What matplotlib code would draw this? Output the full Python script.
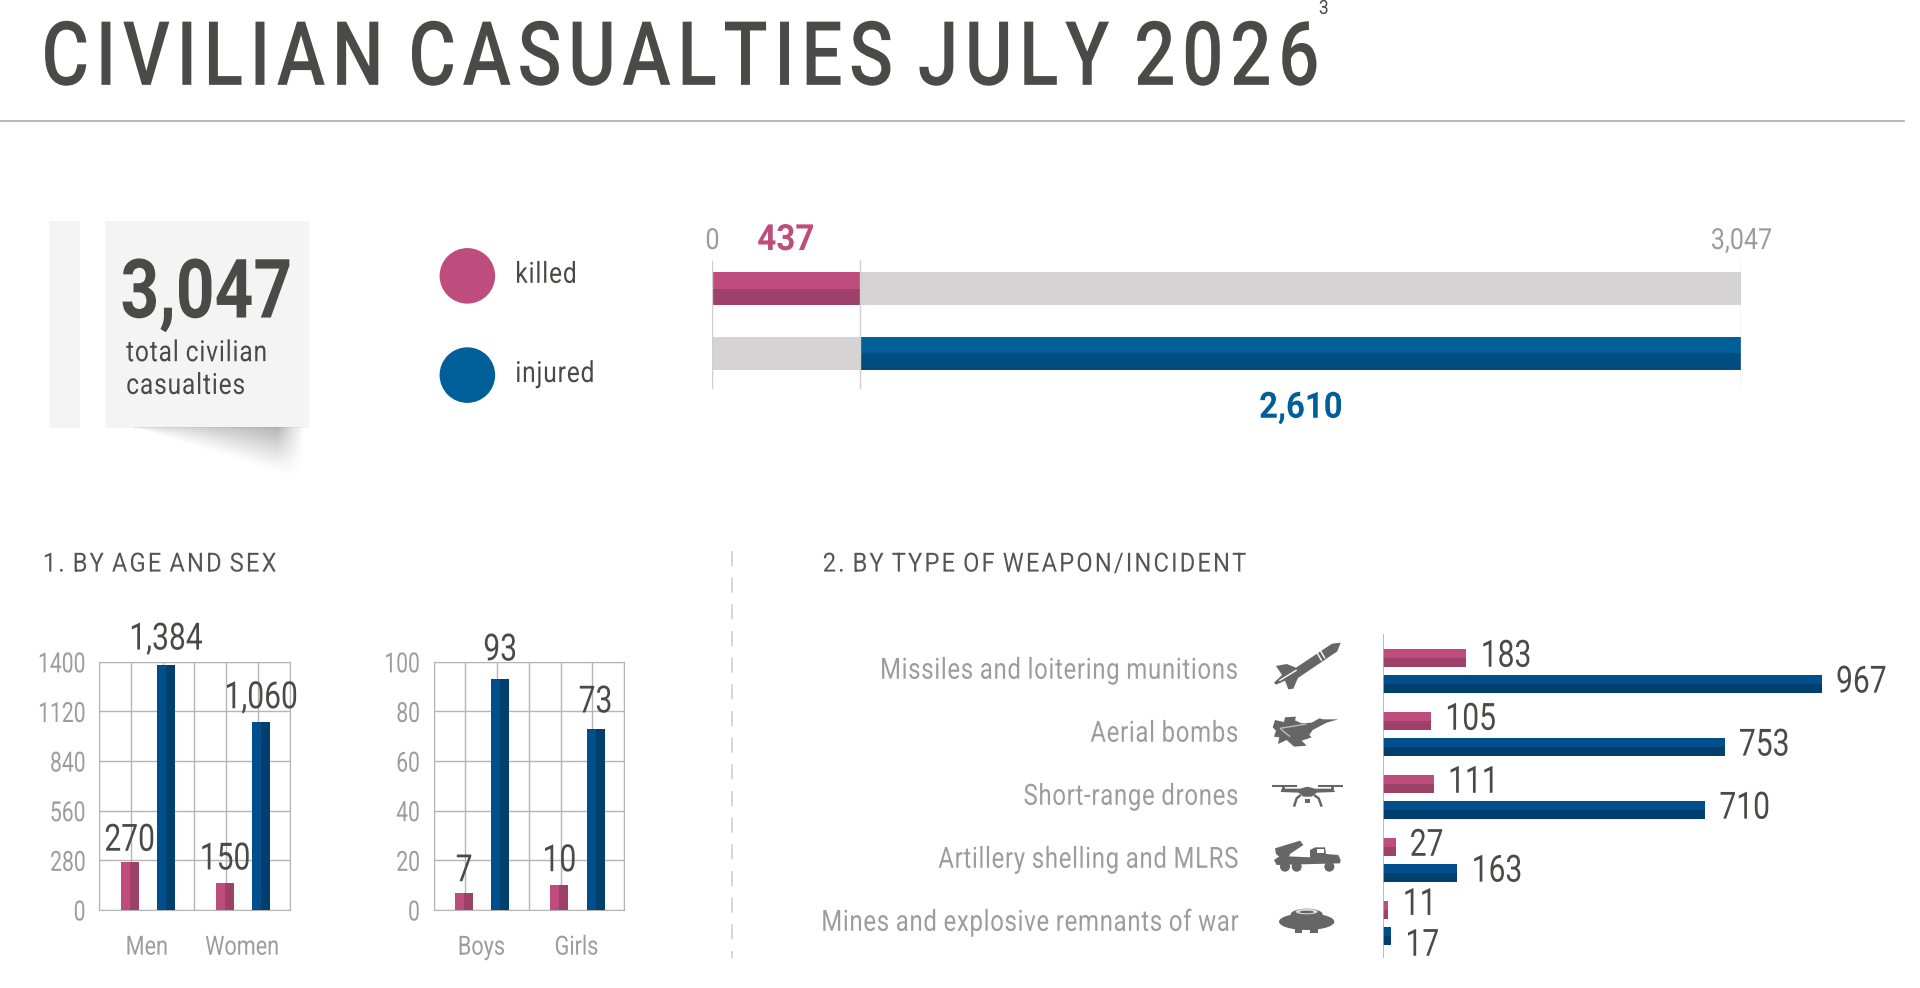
import matplotlib
matplotlib.use('Agg')
import matplotlib.pyplot as plt
import numpy as np
from matplotlib.patches import Circle, Ellipse, Polygon, Rectangle
from matplotlib.path import Path
from matplotlib.patheffects import AbstractPathEffect
from matplotlib.transforms import Affine2D

plt.rcParams['font.family'] = ['Roboto', 'DejaVu Sans']

killedTotal = 437
injuredTotal = 2610
civilianTotal = 3047

adultGroups = ['Men', 'Women']
adultKilled = [270, 150]
adultInjured = [1384, 1060]
adultTicks = [0, 280, 560, 840, 1120, 1400]

childGroups = ['Boys', 'Girls']
childKilled = [7, 10]
childInjured = [93, 73]
childTicks = [0, 20, 40, 60, 80, 100]

weaponTypes = ['Missiles and loitering munitions', 'Aerial bombs', 'Short-range drones',
               'Artillery shelling and MLRS', 'Mines and explosive remnants of war']
weaponKilled = [183, 105, 111, 27, 11]
weaponInjured = [967, 753, 710, 163, 17]

PINK = '#BE4D7D'
PINK_DARK = '#9E4168'
BLUE = '#005F99'
BLUE_DARK = '#004E7F'
BAR_BLUE = '#004F8C'
BAR_BLUE_DARK = '#003F6E'
GREY_BAR = '#D5D3D3'
TEXT = '#4A4A49'
LIGHT_TEXT = '#9C9C9C'
GRID = '#B5B5B5'
ICON = '#666666'


class Squeeze(AbstractPathEffect):
    # Roboto Condensed is not installed, so narrow the glyphs of the real text
    # track adds letter spacing, in 1/100 em
    def __init__(self, sx, ha='left', track=0):
        self.sx = sx
        self.ha = ha
        self.track = track

    def spaced(self, tpath):
        verts = tpath.vertices.copy()
        starts = list(np.where(tpath.codes == Path.MOVETO)[0]) + [len(verts)]
        glyph = -1
        right = -np.inf
        for a, b in zip(starts[:-1], starts[1:]):
            if verts[a:b, 0].min() >= right:
                glyph += 1
                right = -np.inf
            right = max(right, verts[a:b, 0].max())
            verts[a:b, 0] += glyph * self.track
        return Path(verts, tpath.codes)

    def anchor(self, path):
        x0, _, x1, _ = path.get_extents().extents
        return {'left': x0, 'center': (x0 + x1) / 2, 'right': x1}[self.ha]

    def draw_path(self, renderer, gc, tpath, affine, rgbFace=None):
        home = self.anchor(tpath)
        if self.track:
            tpath = self.spaced(tpath)
        t = Affine2D().translate(-self.anchor(tpath), 0).scale(self.sx, 1).translate(home, 0) + affine
        renderer.draw_path(gc, tpath, t, rgbFace)


fig = plt.figure(figsize=(19.2, 9.88), dpi=100, facecolor='white')
# layout numbers below were measured on a slightly smaller view of the picture
W, H = 1920 * 1.00776, 988 * 1.00776


def axesAt(x0, y0, x1, y1, **kw):
    return fig.add_axes([x0 / W, 1 - y1 / H, (x1 - x0) / W, (y1 - y0) / H], **kw)


bg = axesAt(0, 0, W, H)
bg.set_xlim(0, W)
bg.set_ylim(H, 0)
bg.axis('off')


def label(x, y, s, size, color=TEXT, weight='normal', ha='left', sx=0.84, track=0):
    t = bg.text(x, y, s, fontsize=size, color=color, fontweight=weight, ha=ha, va='baseline')
    t.set_path_effects([Squeeze(sx, ha, track)])
    return t


def splitBarh(ax, y, start, length, height, top, bottom):
    ax.barh(y - height / 4, length, height / 2, left=start, color=top, linewidth=0, zorder=3)
    ax.barh(y + height / 4, length, height / 2, left=start, color=bottom, linewidth=0, zorder=3)


def splitBar(ax, x, value, width, left, right):
    ax.bar(x - width / 4, value, width / 2, color=left, linewidth=0, zorder=3)
    ax.bar(x + width / 4, value, width / 2, color=right, linewidth=0, zorder=3)


# header
label(41, 85.5, 'CIVILIAN CASUALTIES JULY 2026', 64, weight='medium', sx=0.82, track=9)
label(1329, 14, '3', 14, sx=0.9)
bg.plot([0, 1919], [122, 122], color='#ABABAB', lw=1.2)

# total card
bg.add_patch(Rectangle((49, 223), 32, 208, color='#F4F4F4', lw=0))
bg.add_patch(Rectangle((106, 223), 205, 208, color='#F4F4F4', lw=0))
gx, gy = np.meshgrid(np.linspace(0, 1, 180), np.linspace(0, 1, 60))
edge = np.clip(gx * 1.1, 0.001, 1)
fade = np.clip(1 - gy / edge, 0, 1) * np.clip((1 - gx) * 6, 0, 1) * (0.35 + 0.65 * gx)
shadow = np.zeros(gx.shape + (4,))
shadow[..., 3] = 0.34 * fade ** 1.2
bg.imshow(shadow, extent=(135, 308, 482, 431), aspect='auto', interpolation='bilinear', zorder=1)
bg.set_xlim(0, W)
bg.set_ylim(H, 0)
label(121, 320, f'{civilianTotal:,}', 59, weight='bold', sx=0.825)
label(127, 364, 'total civilian', 21, sx=0.84, track=3.5)
label(127, 397, 'casualties', 21, sx=0.84, track=3.5)

# legend
bg.add_patch(Circle((471, 278), 28, color=PINK, lw=0))
bg.add_patch(Circle((471, 378), 28, color=BLUE, lw=0))
label(519, 285, 'killed', 21, track=3.5)
label(519, 385, 'injured', 21, track=3.5)

# killed / injured totals
top = axesAt(718, 262, 1755, 392)
top.set_xlim(0, civilianTotal)
top.set_ylim(1.55, -0.44)
top.axis('off')
splitBarh(top, 0, 0, killedTotal, 0.51, PINK, PINK_DARK)
splitBarh(top, 0, killedTotal, civilianTotal - killedTotal, 0.51, GREY_BAR, GREY_BAR)
splitBarh(top, 1, 0, killedTotal, 0.51, GREY_BAR, GREY_BAR)
splitBarh(top, 1, killedTotal, injuredTotal, 0.51, BLUE, BLUE_DARK)
top.vlines([0, killedTotal, civilianTotal], 1.55, -0.44, color='#CFCFCF', lw=1, zorder=4)
label(718, 251, '0', 21, LIGHT_TEXT, ha='center', sx=0.86)
label(792, 252, f'{killedTotal}', 26, PINK, 'bold', ha='center', sx=0.92)
label(1755, 251, f'{civilianTotal:,}', 21, LIGHT_TEXT, ha='center', sx=0.86)
label(1311, 421, f'{injuredTotal:,}', 26, BLUE, 'bold', ha='center', sx=0.91)

# section headings
label(43, 576, '1. BY AGE AND SEX', 19, '#555555', sx=0.9, track=9)
label(829, 576, '2. BY TYPE OF WEAPON/INCIDENT', 19, '#555555', sx=0.9, track=9)
bg.plot([738, 738], [555, 965], color='#D0D0D0', lw=1.2, dashes=(9, 7))


def groupChart(box, groups, killed, injured, ticks, killedGap, injuredGap):
    ax = axesAt(*box)
    ax.set_facecolor('none')
    ax.set_xlim(0, 2)
    ax.set_ylim(0, ticks[-1])
    ax.set_yticks(ticks)
    ax.set_xticks([0.5, 1.5], groups)
    ax.set_xticks(np.arange(0, 2.01, 1 / 3), minor=True)
    ax.grid(True, which='major', axis='y', color=GRID, lw=1)
    ax.grid(True, which='minor', axis='x', color=GRID, lw=1)
    ax.set_axisbelow(True)
    for s in ax.spines.values():
        s.set_color(GRID)
    ax.tick_params(which='both', length=0)
    ax.tick_params(axis='y', pad=9.6, labelsize=20, labelcolor=LIGHT_TEXT)
    ax.tick_params(axis='x', pad=18.5, labelsize=19, labelcolor=LIGHT_TEXT)
    for t in ax.get_yticklabels():
        t.set_path_effects([Squeeze(0.76, 'right')])
    for t in ax.get_xticklabels():
        t.set_path_effects([Squeeze(0.82, 'center')])
    for i in range(2):
        for x, v, gap, c1, c2 in ((i + 0.32, killed[i], killedGap[i], PINK, PINK_DARK),
                                  (i + 0.70, injured[i], injuredGap[i], BAR_BLUE, BAR_BLUE_DARK)):
            splitBar(ax, x, v, 0.19, c1, c2)
            t = ax.annotate(f'{v:,}', (x, v), xytext=(0, gap), textcoords='offset points',
                            ha='center', va='baseline', fontsize=27, color=TEXT,
                            annotation_clip=False, zorder=6)
            t.set_path_effects([Squeeze(0.8, 'center')])
    return ax


groupChart((100, 667, 292, 917), adultGroups, adultKilled, adultInjured, adultTicks, [8.2, 10], [10.9, 10])
groupChart((437, 667, 629, 917), childGroups, childKilled, childInjured, childTicks, [8.2, 10], [13.5, 11.8])

# weapons chart
weapons = axesAt(1394, 639, 1851, 965)
weapons.set_xlim(0, 1000)
weapons.set_ylim(4.55, -0.583)
weapons.axis('off')
labelShift = [[1.2, 1.2], [1.2, 1.2], [1.2, 1.2], [1.2, 1.2], [4, -6.8]]
for i in range(len(weaponTypes)):
    splitBarh(weapons, i - 0.205, 0, weaponKilled[i], 0.283, PINK, PINK_DARK)
    splitBarh(weapons, i + 0.205, 0, weaponInjured[i], 0.283, BAR_BLUE, BAR_BLUE_DARK)
    for v, y, dy in ((weaponKilled[i], i - 0.205, labelShift[i][0]),
                     (weaponInjured[i], i + 0.205, labelShift[i][1])):
        t = weapons.annotate(f'{v}', (v, y), xytext=(10, dy), textcoords='offset points',
                             ha='left', va='center', fontsize=27, color=TEXT,
                             annotation_clip=False, zorder=6)
        t.set_path_effects([Squeeze(0.8, 'left')])
    label(1248, 684 + 63.5 * i, weaponTypes[i], 21, LIGHT_TEXT, ha='right', sx=0.82, track=3)
weapons.axvline(0, color='#B0B0B0', lw=1.2, zorder=5)


# icons, rough silhouettes traced on a 3x crop of the picture
def iconTransform(ox, oy):
    return Affine2D().scale(1 / 3).translate(ox, oy).scale(1.00776) + bg.transData


def poly(points, ox, oy, color=ICON):
    bg.add_patch(Polygon(points, closed=True, color=color, lw=0, transform=iconTransform(ox, oy)))


def oval(cx, cy, rx, ry, ox, oy, color=ICON):
    bg.add_patch(Ellipse((cx, cy), 2 * rx, 2 * ry, color=color, lw=0, transform=iconTransform(ox, oy)))


def stroke(xs, ys, ox, oy, color='white', lw=1):
    bg.plot(xs, ys, color=color, lw=lw, transform=iconTransform(ox, oy), solid_capstyle='butt')


# missile
poly([(212, 8), (186, 11), (78, 83), (50, 72), (18, 78), (36, 105), (12, 128), (18, 134), (45, 122),
      (55, 148), (70, 146), (84, 114), (202, 34)], 1270, 640)
stroke([140, 155], [36, 62], 1270, 640)
stroke([150, 165], [30, 55], 1270, 640)
stroke([28, 80], [122, 90], 1270, 640)

# jet
poly([(205, 238), (160, 238), (148, 235), (125, 248), (95, 250), (75, 241), (78, 230), (45, 232), (42, 246),
      (15, 240), (8, 262), (18, 272), (12, 290), (28, 292), (24, 312), (50, 300), (72, 320), (110, 317),
      (95, 302), (125, 292), (118, 285), (128, 270), (170, 248)], 1270, 640)
stroke([30, 110], [265, 252], 1270, 640, '#BBBBBB')
stroke([30, 60], [265, 290], 1270, 640, '#BBBBBB')

# drone
stroke([5, 80], [18, 18], 1270, 780, ICON, 1.5)
stroke([145, 218], [18, 18], 1270, 780, ICON, 1.5)
stroke([40, 40], [18, 28], 1270, 780, ICON, 2)
stroke([185, 185], [18, 28], 1270, 780, ICON, 2)
poly([(32, 36), (35, 26), (90, 26), (112, 20), (135, 26), (190, 26), (195, 36), (140, 38), (125, 50),
      (100, 50), (85, 38)], 1270, 780)
stroke([92, 80, 72], [45, 55, 80], 1270, 780, ICON, 1.8)
stroke([132, 146, 155], [45, 55, 80], 1270, 780, ICON, 1.8)
poly([(106, 56), (120, 56), (120, 68), (106, 68)], 1270, 780)

# truck with launcher
poly([(15, 205), (90, 182), (100, 195), (60, 222), (58, 230), (30, 232), (18, 222)], 1270, 780)
poly([(12, 240), (30, 228), (120, 232), (120, 210), (135, 202), (165, 202), (168, 222), (205, 225), (212, 240),
      (210, 250), (20, 255)], 1270, 780)
poly([(140, 207), (162, 207), (162, 220), (140, 220)], 1270, 780, 'white')
for wheel in (45, 80, 178):
    oval(wheel, 260, 15, 15, 1270, 780)

# mine
oval(110, 425, 83, 25, 1270, 780)
poly([(75, 445), (95, 445), (95, 460), (75, 460)], 1270, 780)
poly([(120, 445), (145, 445), (145, 460), (120, 460)], 1270, 780)
oval(110, 403, 48, 17, 1270, 780)
oval(110, 395, 33, 8, 1270, 780, '#E0E0E0')
oval(110, 396, 22, 4, 1270, 780)

plt.savefig('out.png', dpi=100, facecolor='white')
